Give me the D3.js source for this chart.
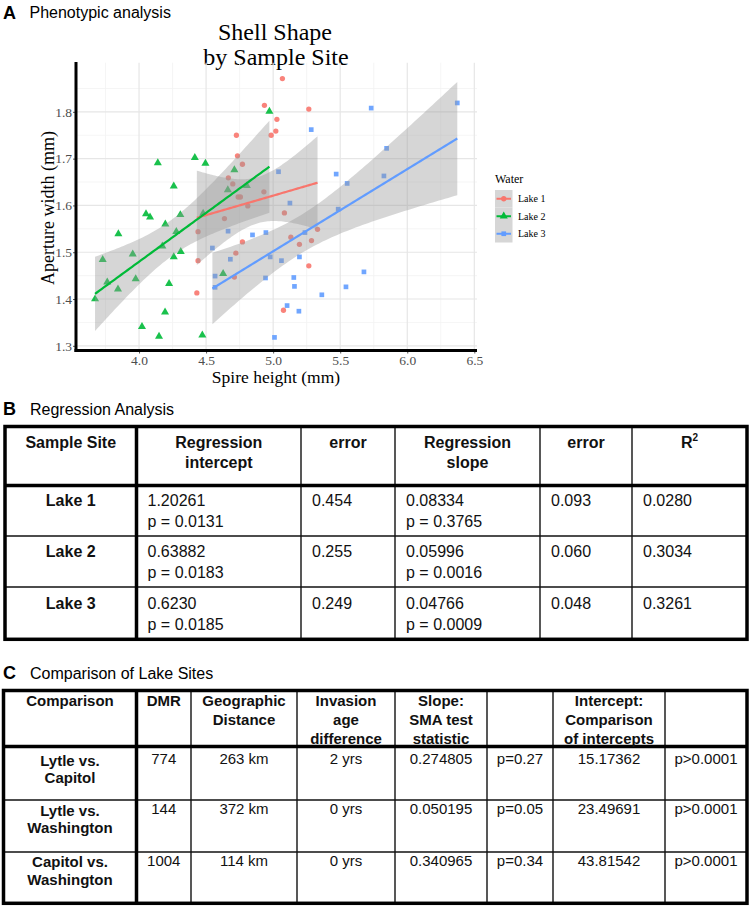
<!DOCTYPE html>
<html><head><meta charset="utf-8">
<script src="https://cdn.jsdelivr.net/npm/d3@7"></script>
<style>body{margin:0;background:#fff}svg{display:block}</style>
</head><body>
<svg id="c" width="751" height="908"></svg>
<script>
// ---------------- DATA ----------------
const seriesNames = ["Lake 1", "Lake 2", "Lake 3"];
const lake1X = [4.935,5.028,5.020,4.985,4.726,5.069,5.266,4.734,4.771,4.666,4.699,4.931,4.739,4.756,4.811,4.637,4.440,4.771,4.722,4.440,4.711,4.431,5.084,5.331,5.132,5.196,5.286,5.266,5.077];
const lake1Y = [1.814,1.784,1.759,1.750,1.750,1.871,1.806,1.706,1.688,1.659,1.646,1.629,1.618,1.618,1.599,1.572,1.544,1.522,1.498,1.482,1.447,1.413,1.584,1.549,1.532,1.517,1.525,1.471,1.376];
const lake2X = [4.972,4.140,4.416,4.495,4.711,4.259,4.662,4.804,4.052,4.082,4.308,4.196,4.478,4.278,3.846,4.174,4.311,3.953,4.259,3.729,4.627,3.975,3.763,4.224,3.843,3.672,4.194,4.022,4.149,4.472];
const lake2Y = [1.801,1.691,1.702,1.690,1.676,1.641,1.633,1.642,1.582,1.575,1.580,1.560,1.583,1.544,1.539,1.513,1.501,1.496,1.490,1.484,1.454,1.443,1.436,1.433,1.421,1.400,1.372,1.341,1.320,1.323];
const lake3X = [6.373,5.731,5.284,5.846,5.040,5.826,5.470,5.552,5.125,5.485,4.664,4.846,4.946,5.237,4.547,4.978,4.681,5.062,5.196,4.567,4.943,5.154,5.677,4.567,5.159,5.543,5.363,5.104,5.192,5.010];
const lake3Y = [1.819,1.808,1.762,1.722,1.672,1.663,1.667,1.647,1.605,1.592,1.545,1.537,1.542,1.542,1.509,1.490,1.485,1.482,1.490,1.449,1.445,1.446,1.458,1.425,1.427,1.426,1.409,1.386,1.374,1.318];
const xTicks = [4.0, 4.5, 5.0, 5.5, 6.0, 6.5];
const yTicks = [1.3, 1.4, 1.5, 1.6, 1.7, 1.8];

const tableBHeaders = [["Sample Site"], ["Regression", "intercept"], ["error"], ["Regression", "slope"], ["error"], ["R2"]];
const tableBSites = ["Lake 1", "Lake 2", "Lake 3"];
const tableBIntercept = ["1.20261", "0.63882", "0.6230"];
const tableBInterceptP = ["p = 0.0131", "p = 0.0183", "p = 0.0185"];
const tableBInterceptErr = ["0.454", "0.255", "0.249"];
const tableBSlope = ["0.08334", "0.05996", "0.04766"];
const tableBSlopeP = ["p = 0.3765", "p = 0.0016", "p = 0.0009"];
const tableBSlopeErr = ["0.093", "0.060", "0.048"];
const tableBR2 = ["0.0280", "0.3034", "0.3261"];

const tableCHeaders = [["Comparison"], ["DMR"], ["Geographic", "Distance"], ["Invasion", "age", "difference"], ["Slope:", "SMA test", "statistic"], [], ["Intercept:", "Comparison", "of intercepts"], []];
const tableCComparisons = [["Lytle vs.", "Capitol"], ["Lytle vs.", "Washington"], ["Capitol vs.", "Washington"]];
const tableCDMR = ["774", "144", "1004"];
const tableCDistance = ["263 km", "372 km", "114 km"];
const tableCAgeDiff = ["2 yrs", "0 yrs", "0 yrs"];
const tableCSlopeStat = ["0.274805", "0.050195", "0.340965"];
const tableCSlopeP = ["p=0.27", "p=0.05", "p=0.34"];
const tableCInterceptStat = ["15.17362", "23.49691", "43.81542"];
const tableCInterceptP = ["p>0.0001", "p>0.0001", "p>0.0001"];

// ---------------- CHART ----------------
const svg = d3.select("#c");
const SANS = "'Liberation Sans', Arial, Helvetica, sans-serif";
const SERIF = "'Liberation Serif', 'Times New Roman', serif";
const colors = ["#F8766D", "#00BA38", "#619CFF"];
const shapes = [d3.symbolCircle, d3.symbolTriangle, d3.symbolSquare];
const shapeSizes = [22, 28, 22];
const series = [[lake1X, lake1Y], [lake2X, lake2Y], [lake3X, lake3Y]].map((s, i) => ({
  name: seriesNames[i], pts: s[0].map((v, j) => [v, s[1][j]])
}));

const x = d3.scaleLinear().domain([3.53, 6.52]).range([76, 477]);
const y = d3.scaleLinear().domain([1.29, 1.905]).range([350.5, 62.7]);
const [px0, px1] = x.range(); const [py1, py0] = y.range();

// section label A
svg.append("text").attr("x", 3).attr("y", 18.5).attr("font-family", SANS).attr("font-weight", "bold").attr("font-size", 18).text("A");
svg.append("text").attr("x", 29.5).attr("y", 18).attr("font-family", SANS).attr("font-size", 16).text("Phenotypic analysis");

// title
svg.append("text").attr("x", 275).attr("y", 40).attr("text-anchor", "middle").attr("font-family", SERIF).attr("font-size", 24).text("Shell Shape");
svg.append("text").attr("x", 276).attr("y", 65).attr("text-anchor", "middle").attr("font-family", SERIF).attr("font-size", 24).text("by Sample Site");

// grid
const grid = svg.append("g");
const xMinor = xTicks.map(v => v - 0.25);
const yMinor = yTicks.map(v => v + 0.05);
grid.selectAll(".xm").data(xMinor).join("line").attr("x1", d => x(d)).attr("x2", d => x(d)).attr("y1", py0).attr("y2", py1).attr("stroke", "#f2f2f2").attr("stroke-width", 0.8);
grid.selectAll(".ym").data(yMinor).join("line").attr("x1", px0).attr("x2", px1).attr("y1", d => y(d)).attr("y2", d => y(d)).attr("stroke", "#f2f2f2").attr("stroke-width", 0.8);
grid.selectAll(".xg").data(xTicks).join("line").attr("x1", d => x(d)).attr("x2", d => x(d)).attr("y1", py0).attr("y2", py1).attr("stroke", "#e6e6e6").attr("stroke-width", 1.2);
grid.selectAll(".yg").data(yTicks).join("line").attr("x1", px0).attr("x2", px1).attr("y1", d => y(d)).attr("y2", d => y(d)).attr("stroke", "#e6e6e6").attr("stroke-width", 1.2);

// points
series.forEach((s, i) => {
  svg.append("g").selectAll("path").data(s.pts).join("path")
    .attr("transform", d => `translate(${x(d[0])},${y(d[1])})`)
    .attr("d", d3.symbol().type(shapes[i]).size(shapeSizes[i]))
    .attr("fill", colors[i]).attr("fill-opacity", 0.9);
});

// regression fits (lm with 95% CI)
function tcrit(df) { const z = 1.959964; return z + (z ** 3 + z) / (4 * df) + (5 * z ** 5 + 16 * z ** 3 + 3 * z) / (96 * df * df); }
function fit(pts) {
  const n = pts.length, mx = d3.mean(pts, d => d[0]), my = d3.mean(pts, d => d[1]);
  let sxx = 0, sxy = 0; pts.forEach(d => { sxx += (d[0] - mx) ** 2; sxy += (d[0] - mx) * (d[1] - my); });
  const b = sxy / sxx, a = my - b * mx;
  let sse = 0; pts.forEach(d => { sse += (d[1] - a - b * d[0]) ** 2; });
  const s = Math.sqrt(sse / (n - 2)), t = tcrit(n - 2);
  const x0 = d3.min(pts, d => d[0]), x1 = d3.max(pts, d => d[0]);
  return d3.range(81).map(k => x0 + (x1 - x0) * k / 80).map(v => {
    const yh = a + b * v, se = s * Math.sqrt(1 / n + (v - mx) ** 2 / sxx);
    return { x: v, y: yh, lo: yh - t * se, hi: yh + t * se };
  });
}
const fits = series.map(s => fit(s.pts));
const area = d3.area().x(d => x(d.x)).y0(d => y(d.lo)).y1(d => y(d.hi));
const line = d3.line().x(d => x(d.x)).y(d => y(d.y));
fits.forEach(f => svg.append("path").attr("d", area(f)).attr("fill", "#999999").attr("fill-opacity", 0.4));
fits.forEach((f, i) => svg.append("path").attr("d", line(f)).attr("fill", "none").attr("stroke", colors[i]).attr("stroke-width", 2.2));

// axes
const ax = svg.append("g").attr("transform", `translate(0,${py1})`)
  .call(d3.axisBottom(x).tickValues(xTicks).tickFormat(d3.format(".1f")).tickSize(3).tickPadding(2));
const ay = svg.append("g").attr("transform", `translate(${px0},0)`)
  .call(d3.axisLeft(y).tickValues(yTicks).tickFormat(d3.format(".1f")).tickSize(3).tickPadding(1));
[ax, ay].forEach(g => {
  g.select(".domain").remove();
  g.selectAll(".tick line").attr("stroke", "#555");
  g.selectAll(".tick text").attr("font-family", SERIF).attr("font-size", 13.5).attr("fill", "#4d4d4d");
});
ax.selectAll(".tick text").attr("dy", "0.68em");
svg.append("line").attr("x1", px0).attr("x2", px0).attr("y1", 62).attr("y2", py1 + 1.5).attr("stroke", "#000").attr("stroke-width", 3);
svg.append("line").attr("x1", px0 - 1.5).attr("x2", px1).attr("y1", py1).attr("y2", py1).attr("stroke", "#000").attr("stroke-width", 3);

svg.append("text").attr("x", 276).attr("y", 383).attr("text-anchor", "middle").attr("font-family", SERIF).attr("font-size", 17.5).text("Spire height (mm)");
svg.append("text").attr("transform", "translate(54,208) rotate(-90)").attr("text-anchor", "middle").attr("font-family", SERIF).attr("font-size", 18).text("Aperture width (mm)");

// legend
const lg = svg.append("g");
lg.append("text").attr("x", 495).attr("y", 183).attr("font-family", SERIF).attr("font-size", 12).text("Water");
series.forEach((s, i) => {
  const ky = 190 + i * 17.5;
  lg.append("rect").attr("x", 495).attr("y", ky).attr("width", 17.5).attr("height", 17.5).attr("fill", "#d6d6d6");
  lg.append("line").attr("x1", 496.5).attr("x2", 511).attr("y1", ky + 8.75).attr("y2", ky + 8.75).attr("stroke", colors[i]).attr("stroke-width", 2);
  lg.append("path").attr("transform", `translate(503.75,${ky + 8.75})`).attr("d", d3.symbol().type(shapes[i]).size(shapeSizes[i])).attr("fill", colors[i]);
  lg.append("text").attr("x", 518).attr("y", ky + 12.3).attr("font-family", SERIF).attr("font-size", 10).text(s.name);
});

// ---------------- TABLE B ----------------
svg.append("text").attr("x", 3).attr("y", 415).attr("font-family", SANS).attr("font-weight", "bold").attr("font-size", 18).text("B");
svg.append("text").attr("x", 30).attr("y", 415).attr("font-family", SANS).attr("font-size", 16).text("Regression Analysis");

const tb = svg.append("g").attr("font-family", SANS).attr("fill", "#111");
const bCol = [5, 136.5, 301, 395, 540, 632, 747];
const bTop = 426.5, bHead = 485.5, bBottom = 639.3, bRows = [536, 587];
bCol.slice(2, 6).forEach(cx => tb.append("line").attr("x1", cx).attr("x2", cx).attr("y1", bTop).attr("y2", bBottom).attr("stroke", "#111").attr("stroke-width", 1.4));
bRows.forEach(ry => tb.append("line").attr("x1", bCol[0]).attr("x2", bCol[6]).attr("y1", ry).attr("y2", ry).attr("stroke", "#111").attr("stroke-width", 1.4));
tb.append("line").attr("x1", bCol[1]).attr("x2", bCol[1]).attr("y1", bTop).attr("y2", bBottom).attr("stroke", "#000").attr("stroke-width", 3.5);
tb.append("line").attr("x1", bCol[0]).attr("x2", bCol[6]).attr("y1", bHead).attr("y2", bHead).attr("stroke", "#000").attr("stroke-width", 3.5);
tb.append("rect").attr("x", bCol[0]).attr("y", bTop).attr("width", bCol[6] - bCol[0]).attr("height", bBottom - bTop).attr("fill", "none").attr("stroke", "#000").attr("stroke-width", 3.5);

tableBHeaders.forEach((lines, c) => {
  const cx = (bCol[c] + bCol[c + 1]) / 2;
  lines.forEach((t, k) => {
    const el = tb.append("text").attr("x", cx).attr("y", 447.5 + k * 20).attr("text-anchor", "middle").attr("font-weight", "bold").attr("font-size", 16);
    if (t === "R2") { el.append("tspan").text("R"); el.append("tspan").attr("font-size", 10).attr("dy", -7).text("2"); }
    else el.text(t);
  });
});
const bRowBase = [506, 557, 609];
const bLineGap = 21;
tableBSites.forEach((site, r) => {
  const yb = bRowBase[r];
  tb.append("text").attr("x", (bCol[0] + bCol[1]) / 2).attr("y", yb).attr("text-anchor", "middle").attr("font-weight", "bold").attr("font-size", 16).text(site);
  const cells = [[tableBIntercept[r], tableBInterceptP[r]], [tableBInterceptErr[r]], [tableBSlope[r], tableBSlopeP[r]], [tableBSlopeErr[r]], [tableBR2[r]]];
  cells.forEach((lines, c) => {
    lines.forEach((t, k) => tb.append("text").attr("x", bCol[c + 1] + 11).attr("y", yb + k * bLineGap).attr("font-size", 16).text(t));
  });
});

// ---------------- TABLE C ----------------
svg.append("text").attr("x", 3).attr("y", 678.5).attr("font-family", SANS).attr("font-weight", "bold").attr("font-size", 18).text("C");
svg.append("text").attr("x", 30).attr("y", 678.5).attr("font-family", SANS).attr("font-size", 16).text("Comparison of Lake Sites");

const tc = svg.append("g").attr("font-family", SANS).attr("fill", "#111");
const cCol = [3.5, 136.5, 191, 297, 395, 487, 553, 665, 747];
const cTop = 690.5, cHead = 746.5, cBottom = 903.3, cRows = [800, 852];
cCol.slice(2, 8).forEach(cx => tc.append("line").attr("x1", cx).attr("x2", cx).attr("y1", cTop).attr("y2", cBottom).attr("stroke", "#111").attr("stroke-width", 1.4));
cRows.forEach(ry => tc.append("line").attr("x1", cCol[0]).attr("x2", cCol[8]).attr("y1", ry).attr("y2", ry).attr("stroke", "#111").attr("stroke-width", 1.4));
tc.append("line").attr("x1", cCol[1]).attr("x2", cCol[1]).attr("y1", cTop).attr("y2", cBottom).attr("stroke", "#000").attr("stroke-width", 3.5);
tc.append("line").attr("x1", cCol[0]).attr("x2", cCol[8]).attr("y1", cHead).attr("y2", cHead).attr("stroke", "#000").attr("stroke-width", 3.5);
tc.append("rect").attr("x", cCol[0]).attr("y", cTop).attr("width", cCol[8] - cCol[0]).attr("height", cBottom - cTop).attr("fill", "none").attr("stroke", "#000").attr("stroke-width", 3.5);

tableCHeaders.forEach((lines, c) => {
  const cx = (cCol[c] + cCol[c + 1]) / 2;
  lines.forEach((t, k) => tc.append("text").attr("x", cx).attr("y", 705.5 + k * 19).attr("text-anchor", "middle").attr("font-weight", "bold").attr("font-size", 15).text(t));
});
const cRowBase = [765.5, 815.5, 867];
tableCComparisons.forEach((lines, r) => {
  const yb = cRowBase[r];
  lines.forEach((t, k) => tc.append("text").attr("x", (cCol[0] + cCol[1]) / 2).attr("y", yb + k * 17.5).attr("text-anchor", "middle").attr("font-weight", "bold").attr("font-size", 15).text(t));
  const vals = [tableCDMR[r], tableCDistance[r], tableCAgeDiff[r], tableCSlopeStat[r], tableCSlopeP[r], tableCInterceptStat[r], tableCInterceptP[r]];
  vals.forEach((t, c) => tc.append("text").attr("x", (cCol[c + 1] + cCol[c + 2]) / 2).attr("y", yb - 1.5).attr("text-anchor", "middle").attr("font-size", 15).text(t));
});
</script>
</body></html>
